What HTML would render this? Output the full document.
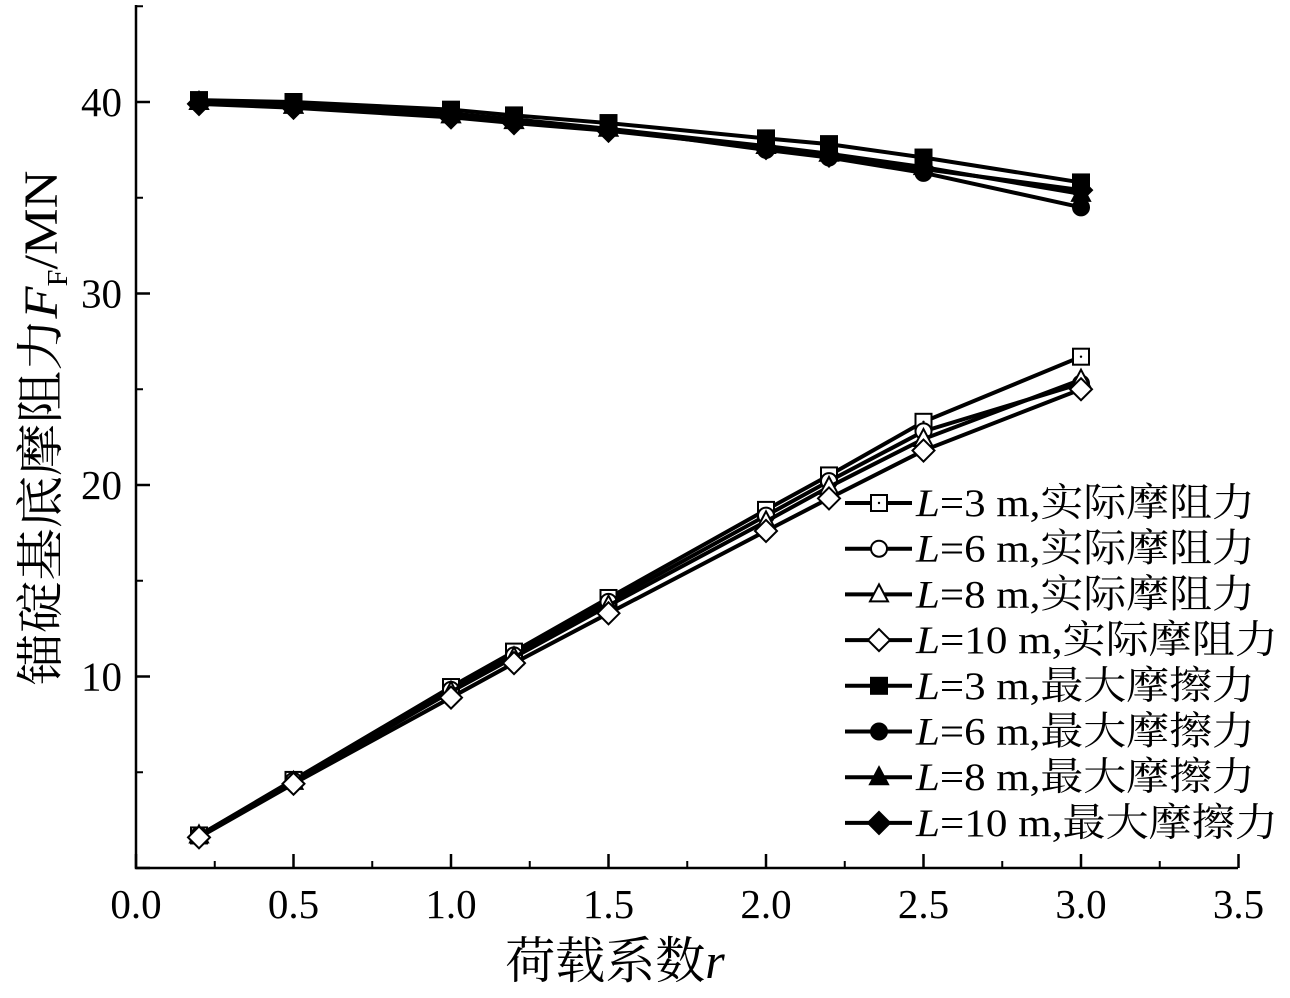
<!DOCTYPE html>
<html><head><meta charset="utf-8"><style>
body{margin:0;background:#fff}
svg text{font-family:"Liberation Serif","Noto Serif CJK SC",serif;fill:#000}
</style></head><body>
<svg id="c" width="1290" height="993"></svg>
<script>
const xs=[0.2,0.5,1.0,1.2,1.5,2.0,2.2,2.5,3.0];
const act3=[1.7,4.6,9.45,11.3,14.1,18.7,20.5,23.3,26.7];
const act6=[1.7,4.55,9.3,11.1,13.9,18.4,20.2,22.8,25.3];
const act8=[1.7,4.5,9.2,11.0,13.7,18.1,19.9,22.4,25.5];
const act10=[1.6,4.4,8.9,10.7,13.3,17.6,19.3,21.8,25.0];
const max3=[40.1,40.0,39.6,39.3,38.9,38.1,37.8,37.1,35.8];
const max6=[40.0,39.9,39.4,39.1,38.6,37.5,37.1,36.3,34.5];
const max8=[40.0,39.8,39.3,39.0,38.6,37.7,37.3,36.6,35.2];
const max10=[39.9,39.7,39.2,38.9,38.5,37.6,37.2,36.5,35.4];
const xTicks=[0,0.5,1.0,1.5,2.0,2.5,3.0,3.5];
const yTicks=[10,20,30,40];
const labels=["=3 m,实际摩阻力","=6 m,实际摩阻力","=8 m,实际摩阻力","=10 m,实际摩阻力","=3 m,最大摩擦力","=6 m,最大摩擦力","=8 m,最大摩擦力","=10 m,最大摩擦力"];
const NS="http://www.w3.org/2000/svg";
const svg=document.getElementById('c');
const X=v=>136+v*315, Y=v=>868-v*19.15;
function el(t,a,p){const e=document.createElementNS(NS,t);for(const k in a)e.setAttribute(k,a[k]);(p||svg).appendChild(e);return e;}
let ax=el('path',{d:'M136,5 V868 H1238',fill:'none',stroke:'#000','stroke-width':2.5});


xTicks.forEach((t,i)=>{
  el('line',{x1:X(t),x2:X(t),y1:868,y2:854,stroke:'#000','stroke-width':2.5});
  if(i<xTicks.length-1)el('line',{x1:X(t+0.25),x2:X(t+0.25),y1:868,y2:861,stroke:'#000','stroke-width':2});
  const tx=el('text',{x:X(t),y:918,'font-size':41,'text-anchor':'middle'});tx.textContent=t.toFixed(1);
  
  
});
[0,...yTicks].forEach(t=>{
  el('line',{x1:136,x2:150,y1:Y(t),y2:Y(t),stroke:'#000','stroke-width':2.5});
  el('line',{x1:136,x2:143,y1:Y(t+5),y2:Y(t+5),stroke:'#000','stroke-width':2});
  if(t>0){const tx=el('text',{x:122,y:Y(t)+14,'font-size':41,'text-anchor':'end'});tx.textContent=t;
  
  }
});
function marker(type,x,y,g){
  const fill=type.f?'#000':'#fff';const a={fill,stroke:'#000','stroke-width':2};
  if(type.s=='sq')el('rect',Object.assign({x:x-8,y:y-8,width:16,height:16},a),g);
  if(type.s=='ci')el('circle',Object.assign({cx:x,cy:y,r:8},a),g);
  if(type.s=='tr')el('path',Object.assign({d:`M${x},${y-10}L${x+9},${y+7}L${x-9},${y+7}Z`},a),g);
  if(type.s=='di')el('path',Object.assign({d:`M${x},${y-11}L${x+11},${y}L${x},${y+11}L${x-11},${y}Z`},a),g);
  if(type.s=='sq'&&!type.f)el('circle',{cx:x,cy:y,r:1.2,fill:'#000'},g);
}
const series=[[act3,{s:'sq',f:0}],[act6,{s:'ci',f:0}],[act8,{s:'tr',f:0}],[act10,{s:'di',f:0}],[max3,{s:'sq',f:1}],[max6,{s:'ci',f:1}],[max8,{s:'tr',f:1}],[max10,{s:'di',f:1}]];
const names=['act-3m','act-6m','act-8m','act-10m','max-3m','max-6m','max-8m','max-10m'];
series.forEach(([d,t],i)=>{
  const g=el('g',{});
  
  
  el('polyline',{points:d.map((v,j)=>X(xs[j])+','+Y(v)).join(' '),fill:'none',stroke:'#000','stroke-width':4},g);
  d.forEach((v,j)=>marker(t,X(xs[j]),Y(v),g));
});
labels.forEach((l,i)=>{
  const y=503+i*45.7;
  const g=el('g',{});
  
  
  el('line',{x1:845,x2:912,y1:y,y2:y,stroke:'#000','stroke-width':4},g);
  marker(series[i][1],879,y,g);
  const t=el('text',{x:916,y:y+13,'font-size':39,textLength:l.startsWith('=10')?362:339,lengthAdjust:'spacingAndGlyphs'},g);
  const it=el('tspan',{'font-style':'italic'},t);it.textContent='L';
  const r=el('tspan',{},t);r.textContent=l;
});
const xt=el('text',{x:615,y:978,'font-size':50,'text-anchor':'middle'});
xt.innerHTML='荷载系数<tspan font-style="italic">r</tspan>';


const yt=el('text',{x:0,y:0,'font-size':48,'text-anchor':'middle',textLength:515,lengthAdjust:'spacingAndGlyphs',transform:'translate(57,428) rotate(-90)'});
yt.innerHTML='锚碇基底摩阻力<tspan font-style="italic">F</tspan><tspan font-size="28" dy="10">F</tspan><tspan dy="-10">/MN</tspan>';


</script>
</body></html>
